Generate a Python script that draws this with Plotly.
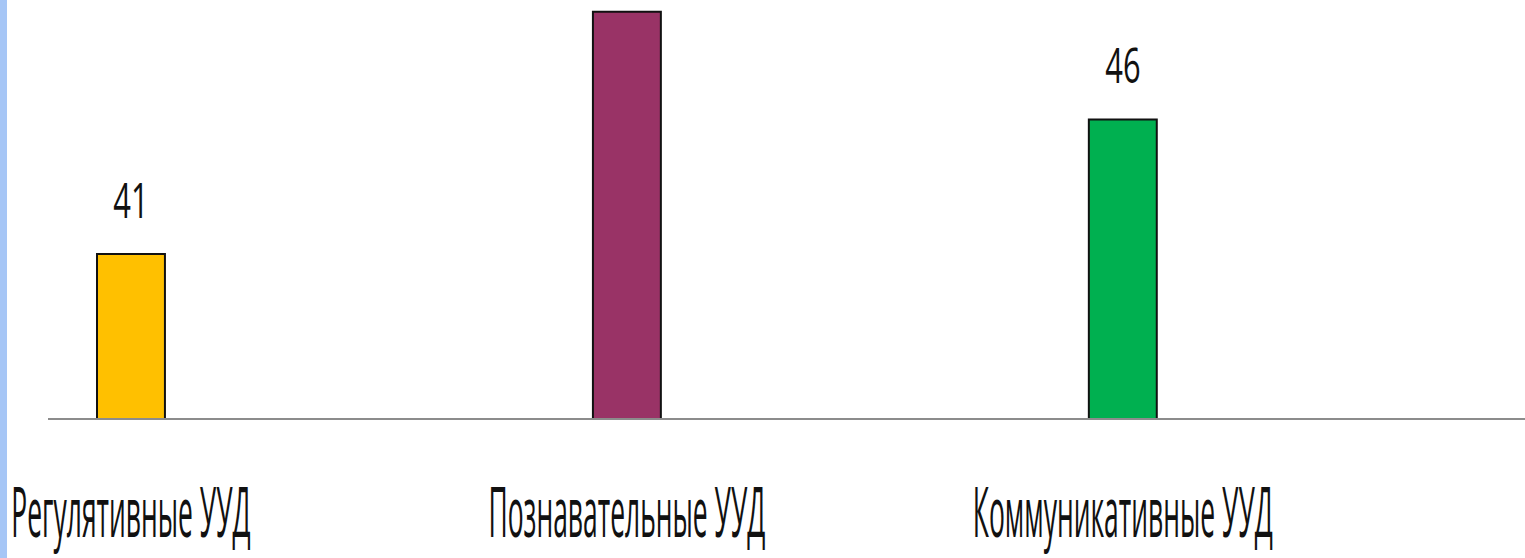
import plotly.graph_objects as go

categories = ["Регулятивные УУД", "Познавательные УУД", "Коммуникативные УУД"]
values = [41, 50, 46]
colors = ["#FFC000", "#993366", "#00B050"]

FONT = "Open Sans, Liberation Sans, sans-serif"
SQUEEZE_TICKS = 0.378
SQUEEZE_LABELS = 0.63

fig = go.Figure()
fig.add_trace(go.Bar(
    x=list(range(len(categories))),
    y=values,
    width=0.137,
    marker=dict(color=colors, line=dict(color="#111111", width=2)),
    hoverinfo="skip",
))

for i, v in enumerate(values):
    fig.add_annotation(x=i, y=v, text=str(v), showarrow=False,
                       yanchor="bottom", yshift=20,
                       font=dict(family=FONT, size=49, color="#111111"))

fig.add_shape(type="rect", xref="paper", yref="paper",
              x0=-48/1477, x1=-41/1477, y0=-1, y1=2,
              fillcolor="#A6C6F6", line=dict(width=0), layer="below")

fig.update_layout(
    width=1525, height=558,
    margin=dict(l=48, r=0, t=0, b=140, autoexpand=False),
    paper_bgcolor="white", plot_bgcolor="white",
    showlegend=False,
    xaxis=dict(range=[-0.1673, 2.811], tickmode="array",
               tickvals=list(range(len(categories))), ticktext=categories,
               showline=True, linecolor="#8C8C8C", linewidth=2,
               showgrid=False, zeroline=False, ticks="", tickangle=0,
               automargin=False,
               ticklabeloverflow="allow", ticklabelstandoff=33,
               tickfont=dict(family=FONT, size=70, color="#111111")),
    yaxis=dict(range=[34.9, 50.44], visible=False, showgrid=False,
               zeroline=False, automargin=False),
)

post = """
document.body.style.margin = '0';
var gd = document.getElementById('{plot_id}');
function squeeze(sel, k) {
  gd.querySelectorAll(sel).forEach(function(t) {
    var b = t.getBBox();
    var cx = b.x + b.width / 2;
    var tr = t.getAttribute('transform') || '';
    t.setAttribute('transform', tr + ' translate(' + cx + ',0) scale(' + k + ',1) translate(' + (-cx) + ',0)');
  });
}
squeeze('.xtick text', %s);
squeeze('.annotation-text', %s);
""" % (SQUEEZE_TICKS, SQUEEZE_LABELS)

fig.write_html("out.html", post_script=post, config={"displayModeBar": False})
